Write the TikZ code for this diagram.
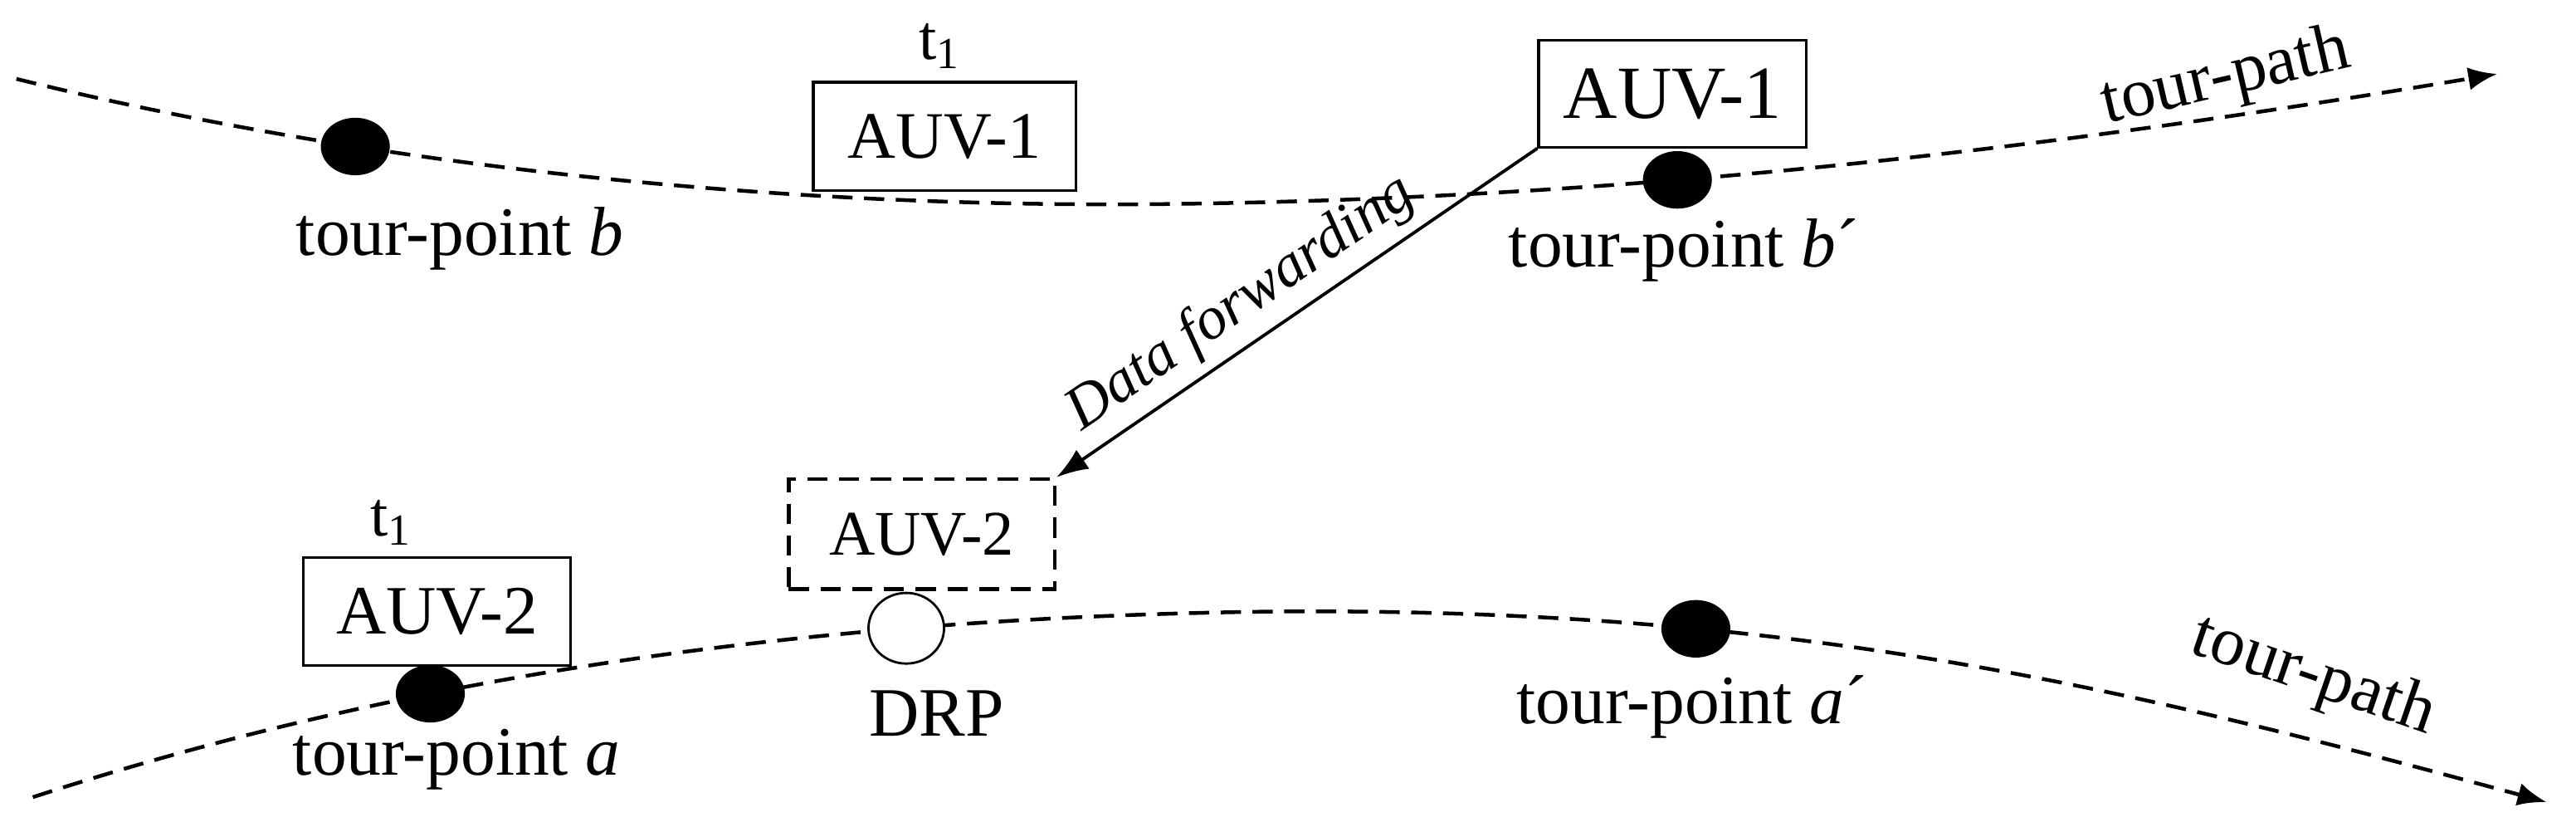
\documentclass[tikz,border=0pt]{standalone}
\usepackage{fontspec}
\setmainfont{Liberation Serif}
\usetikzlibrary{arrows.meta,shapes.geometric}
\begin{document}
\begin{tikzpicture}[x=0.02cm,y=-0.02cm,
  lbl/.style={font=\fontsize{24}{28}\selectfont},
  box/.style={draw,line width=0.9pt,inner sep=0pt},
  dot/.style={ellipse,fill=black,minimum width=0.84cm,minimum height=0.7cm,inner sep=0pt},
  tpath/.style={line width=1.3pt,dash pattern=on 7pt off 4pt,-{Latex[length=10pt,width=8pt]}}]
\useasboundingbox (0,0) rectangle (1568,500);
\draw[tpath] (10,48) .. controls (200,95) and (450,128) .. (720,124) node[dot,pos=0.33] (b) {}
  .. controls (1000,120) and (1250,90) .. (1520,45) node[dot,pos=0.37] (bp) {};
\draw[tpath] (20,485) .. controls (250,410) and (500,375) .. (780,372) node[dot,pos=0.34] (a) {}
  node[ellipse,draw,fill=white,line width=0.8pt,minimum width=0.92cm,minimum height=0.86cm,inner sep=0pt,solid,pos=0.72] (drp) {}
  .. controls (1100,370) and (1300,420) .. (1550,488) node[dot,pos=0.29] (ap) {};
\node[lbl] (lb) at (280,145) {tour-point \textit{b}};
\node[lbl] (lbp) at (1025,152) {tour-point \textit{b}´};
\node[lbl] (la) at (278,462) {tour-point \textit{a}};
\node[lbl] (lap) at (1030,430) {tour-point \textit{a}´};
\node[lbl] (ldrp) at (570,434) {DRP};
\node[lbl,rotate=13] (tp1) at (1355,48) {tour-path};
\node[lbl,rotate=-19] (tp2) at (1408,412) {tour-path};
\node[lbl,font=\fontsize{22}{26}\selectfont] (t1a) at (572,28) {t\textsubscript{1}};
\node[lbl,font=\fontsize{22}{26}\selectfont] (t1b) at (238,318) {t\textsubscript{1}};
\node[box,minimum width=3.2cm,minimum height=1.32cm,font=\fontsize{23}{26}\selectfont] (auv1s) at (575,83) {AUV-1};
\node[box,minimum width=3.26cm,minimum height=1.3cm,font=\fontsize{26}{30}\selectfont] (auv1) at (1018,57) {AUV-1};
\node[box,minimum width=3.26cm,minimum height=1.32cm,font=\fontsize{24}{28}\selectfont] (auv2) at (266,372) {AUV-2};
\node[box,dash pattern=on 7pt off 4pt,line width=1.3pt,minimum width=3.24cm,minimum height=1.34cm,font=\fontsize{22}{26}\selectfont] (auv2d) at (561,325) {AUV-2};
\draw[line width=1.1pt,-{Latex[length=11pt,width=8pt]}] (auv1.south west) -- (auv2d.north east)
  node[midway,sloped,above,font=\itshape\fontsize{21}{24}\selectfont,xshift=-0.5cm] {Data forwarding};
\end{tikzpicture}
\end{document}
